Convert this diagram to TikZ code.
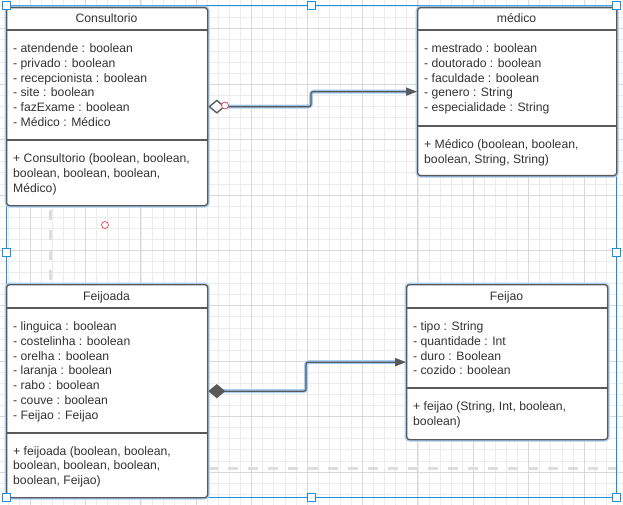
\documentclass[tikz,border=0pt]{standalone}
\usepackage{fontspec}
\setmainfont{Liberation Sans}
\usetikzlibrary{arrows.meta}
\definecolor{gridMinor}{HTML}{ECECEC}
\definecolor{gridMajor}{HTML}{D9D9D9}
\definecolor{guideGray}{HTML}{DDDDDD}
\definecolor{selBlue}{HTML}{1A90D8}
\definecolor{glowBlue}{HTML}{A8CEF4}
\definecolor{boxGray}{HTML}{595959}
\definecolor{textGray}{HTML}{333333}
\definecolor{markRed}{HTML}{E0505E}
\newcommand{\umlFont}{\fontsize{12.2}{14.8}\selectfont}

\begin{document}
\begin{tikzpicture}[x=1pt, y=-1pt,
      classbox/.style={draw=boxGray, line width=1.3pt, fill=white, rounded corners=3pt,
         inner sep=0pt, anchor=north west, preaction={draw=glowBlue, line width=4pt}},
      sepline/.style={draw=boxGray, line width=1.3pt},
      umltitle/.style={text=textGray, font=\umlFont, inner sep=0pt, anchor=base},
      umltext/.style={text=textGray, font=\umlFont, inner sep=0pt, align=left, anchor=base west},
      linkglow/.style={draw=glowBlue, line width=4pt, rounded corners=3pt},
      link/.style={draw=boxGray, line width=1.3pt, rounded corners=2pt},
      guide/.style={draw=guideGray, line width=3pt, dash pattern=on 10pt off 10pt},
      redmark/.style={circle, draw=markRed, fill=white, line width=0.8pt, minimum size=7pt, inner sep=0pt},
      handle/.style={draw=selBlue, fill=white, line width=1pt, minimum size=8pt, inner sep=0pt}]

         \useasboundingbox (0,0) rectangle (623,505);
         \fill[white] (0,0) rectangle (623,505);

         % grid
         \foreach \i in {0,...,55}
         {%
            \draw[gridMinor, line width=0.8pt] ({7.94+\i*11.08},0) -- ++(0,505);
         }
         \foreach \j in {0,...,44}
         {%
            \draw[gridMinor, line width=0.8pt] (0,{6.64+\j*11.08}) -- ++(623,0);
         }
         \foreach \i in {0,...,10}
         {%
            \draw[gridMajor, line width=1pt] ({30.1+\i*55.4},0) -- ++(0,505);
         }
         \foreach \j in {0,...,8}
         {%
            \draw[gridMajor, line width=1pt] (0,{28.8+\j*55.4}) -- ++(623,0);
         }

         \draw[guide] (50,210) -- (50,283);
         \draw[guide] (208,468) -- (623,468);

         \draw[selBlue, line width=1pt] (6,6) rectangle (616.5,497);

         % classes
         \node[classbox, minimum width=201pt, minimum height=198pt] (cons) at (6,7) {};
         \node[classbox, minimum width=199pt, minimum height=168pt] (med) at (417,7) {};
         \node[classbox, minimum width=201pt, minimum height=213pt] (feijoada) at (6,284) {};
         \node[classbox, minimum width=201pt, minimum height=155pt] (feijao) at (406,284) {};

         \draw[sepline] (6,30) -- (207,30);
         \draw[sepline] (6,140) -- (207,140);
         \draw[sepline] (417,30) -- (616,30);
         \draw[sepline] (417,126) -- (616,126);
         \draw[sepline] (6,308) -- (207,308);
         \draw[sepline] (6,433) -- (207,433);
         \draw[sepline] (406,308) -- (607,308);
         \draw[sepline] (406,388) -- (607,388);

         % text nodes sit on the baseline of their last line
         \node[umltitle] (consTitle) at (106.5,23) {Consultorio};
         \node[umltext] (consAttr) at (13,126.5) {- atendende : boolean\\- privado : boolean\\- recepcionista : boolean\\- site : boolean\\- fazExame : boolean\\- Médico : Médico};
         \node[umltext] (consOps) at (13,192.1) {+ Consultorio (boolean, boolean,\\boolean, boolean, boolean,\\Médico)};

         \node[umltitle] (medTitle) at (516.5,23) {médico};
         \node[umltext] (medAttr) at (424,111.7) {- mestrado : boolean\\- doutorado : boolean\\- faculdade : boolean\\- genero : String\\- especialidade : String};
         \node[umltext] (medOps) at (424,163.3) {+ Médico (boolean, boolean,\\boolean, String, String)};

         \node[umltitle] (feijoadaTitle) at (106.5,300) {Feijoada};
         \node[umltext] (feijoadaAttr) at (13,419.3) {- linguica : boolean\\- costelinha : boolean\\- orelha : boolean\\- laranja : boolean\\- rabo : boolean\\- couve : boolean\\- Feijao : Feijao};
         \node[umltext] (feijoadaOps) at (13,484.6) {+ feijoada (boolean, boolean,\\boolean, boolean, boolean,\\boolean, Feijao)};

         \node[umltitle] (feijaoTitle) at (506.5,300) {Feijao};
         \node[umltext] (feijaoAttr) at (413,374.9) {- tipo : String\\- quantidade : Int\\- duro : Boolean\\- cozido : boolean};
         \node[umltext] (feijaoOps) at (413,425.3) {+ feijao (String, Int, boolean,\\boolean)};

         % connectors
         \coordinate (bendA) at (311,0);
         \coordinate (bendB) at (306,0);
         \draw[linkglow, {Diamond[length=17pt, width=14pt, fill=glowBlue]}-{Triangle[length=11pt, width=8pt]}]
            (cons.east) -- (cons.east -| bendA) |- (med.west);
         \draw[link, {Diamond[length=17pt, width=14pt, fill=white]}-{Triangle[length=11pt, width=8pt]}]
            (cons.east) -- (cons.east -| bendA) |- (med.west);
         \draw[linkglow, {Diamond[length=17pt, width=14pt, fill=glowBlue]}-{Triangle[length=11pt, width=8pt]}]
            (feijoada.east) -- (feijoada.east -| bendB) |- (feijao.west);
         \draw[link, {Diamond[length=17pt, width=14pt, fill=boxGray]}-{Triangle[length=11pt, width=8pt]}]
            (feijoada.east) -- (feijoada.east -| bendB) |- (feijao.west);

         \node[redmark] (markA) at (225,105.5) {};
         \node[redmark] (markB) at (105,225) {};

         \foreach \hx/\hy [count=\k] in {6/6, 311/6, 616.5/6, 6/252, 616.5/252, 6/497, 311/497, 616.5/497}
         {%
            \node[handle] (handle\k) at (\hx,\hy) {};
         }
      \end{tikzpicture}
\end{document}
